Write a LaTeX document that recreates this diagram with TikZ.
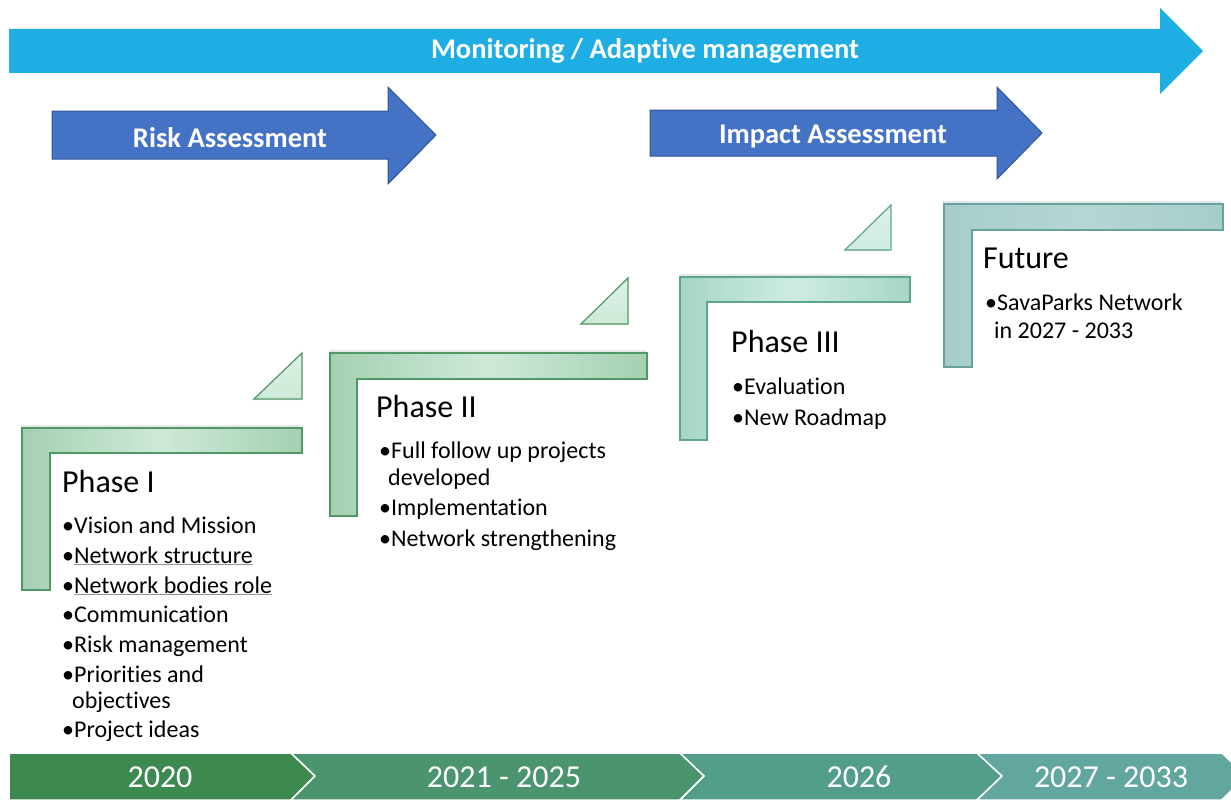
\documentclass[tikz,border=0pt]{standalone}
\usepackage{fontspec}
\setmainfont{Carlito}[Ligatures=NoCommon]
\usetikzlibrary{shadows}
\definecolor{skyarrow}{RGB}{31,174,227}
\definecolor{bluearrow}{RGB}{68,114,196}
\definecolor{blueedge}{RGB}{47,85,151}
\definecolor{greenedge}{RGB}{80,152,102}
\definecolor{greendark}{RGB}{164,208,178}
\definecolor{greenlight}{RGB}{206,233,216}
\definecolor{tealedge}{RGB}{92,166,142}
\definecolor{tealdark}{RGB}{166,214,198}
\definecolor{teallight}{RGB}{206,235,226}
\definecolor{futureedge}{RGB}{104,162,158}
\definecolor{futuredark}{RGB}{166,205,202}
\definecolor{futurelight}{RGB}{182,214,211}
\definecolor{yearA}{RGB}{61,138,80}
\definecolor{yearB}{RGB}{74,148,110}
\definecolor{yearC}{RGB}{82,158,136}
\definecolor{yearD}{RGB}{98,166,160}
\definecolor{spellgray}{RGB}{150,150,150}
\newcommand\spellline[1]{{\color{spellgray}\underline{\color{black}#1}}}
\begin{document}
\begin{tikzpicture}[x=1pt,y=-1pt,
    bracket/.style n args={3}{draw=#1, line width=1.2pt, line join=miter,
      left color=#2, right color=#2, middle color=#3,
      drop shadow={shadow xshift=-1pt, shadow yshift=3pt, opacity=0.18}},
    corner/.style n args={2}{draw=#1, line width=1.2pt, line join=miter,
      top color=#2!70!white, bottom color=#2,
      drop shadow={shadow xshift=-2pt, shadow yshift=-1pt, opacity=0.18}},
    banner/.style={text=white, font=\bfseries\fontsize{28.5}{34}\selectfont},
    title/.style={anchor=base west, inner sep=0pt, font=\fontsize{32}{38}\selectfont},
    item/.style={anchor=base west, inner sep=0pt, font=\fontsize{24}{29}\selectfont},
    year/.style={text=white, font=\fontsize{32}{38}\selectfont}]
  \useasboundingbox (0,0) rectangle (1231,800);
  \clip (0,0) rectangle (1231,800);
  % arrows on top
  \fill[skyarrow] (9,29) -- (1160,29) -- (1160,8) -- (1203,51) -- (1160,94) -- (1160,73) -- (9,73) -- cycle;
  \node[banner] (monitor) at (645,51) {Monitoring / Adaptive management};
  \draw[blueedge, fill=bluearrow, line width=1pt] (52,111) -- (388,111) -- (388,87) -- (436,135) -- (388,184) -- (388,159) -- (52,159) -- cycle;
  \node[banner] (risk) at (230,138) {Risk Assessment};
  \draw[blueedge, fill=bluearrow, line width=1pt] (650,110) -- (997,110) -- (997,87) -- (1042,133) -- (997,179) -- (997,156) -- (650,156) -- cycle;
  \node[banner] (impact) at (833,136) {Impact Assessment};
  % phase brackets
  \draw[bracket={greenedge}{greendark}{greenlight}] (22,428) -- (302,428) -- (302,453) -- (50,453) -- (50,590) -- (22,590) -- cycle;
  \draw[corner={greenedge}{greenlight}] (254,399) -- (302,353) -- (302,399) -- cycle;
  \draw[bracket={greenedge}{greendark}{greenlight}] (330,353) -- (647,353) -- (647,379) -- (357,379) -- (357,516) -- (330,516) -- cycle;
  \draw[corner={greenedge}{greenlight}] (581,324) -- (628,278) -- (628,324) -- cycle;
  \draw[bracket={tealedge}{tealdark}{teallight}] (680,277) -- (910,277) -- (910,302) -- (707,302) -- (707,440) -- (680,440) -- cycle;
  \draw[corner={tealedge}{teallight}] (845,250) -- (891,205) -- (891,250) -- cycle;
  \draw[bracket={futureedge}{futuredark}{futurelight}] (944,204) -- (1223,204) -- (1223,230) -- (972,230) -- (972,367) -- (944,367) -- cycle;
  % phase texts
  \node[title] (phase1) at (62,492) {Phase I};
  \foreach \y/\t in {533/Vision and Mission, 563/\spellline{Network structure},
      593/\spellline{Network bodies role}, 622/Communication, 652/Risk management,
      682/Priorities and, 737/Project ideas}
    \node[item] (p1-\y) at (62,\y) {•\t};
  \node[item] (p1-708) at (72,708) {objectives};
  \node[title] (phase2) at (376,417) {Phase II};
  \foreach \y/\t in {458/Full follow up projects, 515/Implementation, 546/Network strengthening}
    \node[item] (p2-\y) at (379,\y) {•\t};
  \node[item] (p2-485) at (388,485) {developed};
  \node[title] (phase3) at (731,352) {Phase III};
  \foreach \y/\t in {394/Evaluation, 425/New Roadmap}
    \node[item] (p3-\y) at (732,\y) {•\t};
  \node[title] (future) at (983,268) {Future};
  \node[item] (f-310) at (985,310) {•SavaParks Network};
  \node[item] (f-338) at (994,338) {in 2027 - 2033};
  % timeline
  \draw[white, line width=1.5pt, fill=yearA] (9,753) -- (291,753) -- (315,776) -- (291,800) -- (9,800) -- cycle;
  \draw[white, line width=1.5pt, fill=yearB] (291,753) -- (680,753) -- (704,776) -- (680,800) -- (291,800) -- (315,776) -- cycle;
  \draw[white, line width=1.5pt, fill=yearC] (680,753) -- (977,753) -- (1002,776) -- (977,800) -- (680,800) -- (704,776) -- cycle;
  \draw[white, line width=1.5pt, fill=yearD] (977,753) -- (1222,753) -- (1246,776) -- (1222,800) -- (977,800) -- (1002,776) -- cycle;
  \node[year] (y2020) at (160,777) {2020};
  \node[year] (y2021) at (504,777) {2021 - 2025};
  \node[year] (y2026) at (859,777) {2026};
  \node[year] (y2027) at (1111,777) {2027 - 2033};
\end{tikzpicture}
\end{document}
